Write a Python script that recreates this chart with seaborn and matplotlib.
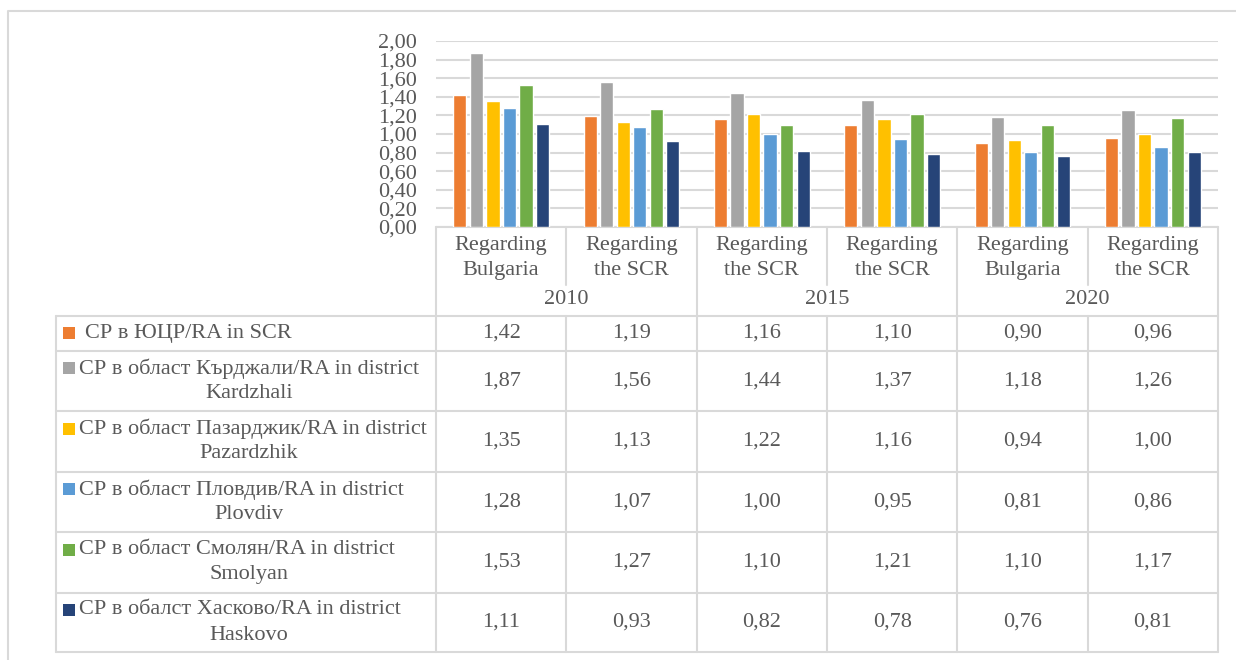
import numpy as np
import pandas as pd
import matplotlib
matplotlib.use("Agg")
import matplotlib.pyplot as plt
from matplotlib.ticker import FuncFormatter
import seaborn as sns

# ---- data -------------------------------------------------------------
periods = ["2010", "2015", "2020"]
columns = ["Regarding\nBulgaria", "Regarding\nthe SCR",
           "Regarding\nthe SCR", "Regarding\nthe SCR",
           "Regarding\nBulgaria", "Regarding\nthe SCR"]
column_period = ["2010", "2010", "2015", "2015", "2020", "2020"]

series = [
    "СР в ЮЦР/RA in SCR",
    "СР в област Кърджали/RA in district\nKardzhali",
    "СР в област Пазарджик/RA in district\nPazardzhik",
    "СР в област Пловдив/RA in district\nPlovdiv",
    "СР в област Смолян/RA in district\nSmolyan",
    "СР в обалст Хасково/RA in district\nHaskovo",
]
ra_scr = [1.42, 1.19, 1.16, 1.10, 0.90, 0.96]
ra_kardzhali = [1.87, 1.56, 1.44, 1.37, 1.18, 1.26]
ra_pazardzhik = [1.35, 1.13, 1.22, 1.16, 0.94, 1.00]
ra_plovdiv = [1.28, 1.07, 1.00, 0.95, 0.81, 0.86]
ra_smolyan = [1.53, 1.27, 1.10, 1.21, 1.10, 1.17]
ra_haskovo = [1.11, 0.93, 0.82, 0.78, 0.76, 0.81]
values = [ra_scr, ra_kardzhali, ra_pazardzhik, ra_plovdiv, ra_smolyan, ra_haskovo]

colors = ["#ED7D31", "#A5A5A5", "#FFC000", "#5B9BD5", "#70AD47", "#264478"]

slots = [f"{p}|{i}" for i, p in enumerate(column_period)]
df = pd.DataFrame(
    [(slots[j], s, v[j]) for s, v in zip(series, values) for j in range(len(slots))],
    columns=["slot", "series", "value"],
)

# ---- style ------------------------------------------------------------
sns.set_theme(style="white")
plt.rcParams["font.family"] = ["Liberation Serif", "DejaVu Serif"]
TXT = "#595959"
LINE = "#D9D9D9"
FS = 16

W, H = 1236, 660
fig = plt.figure(figsize=(W / 100, H / 100), dpi=100)

# table geometry (pixels)
tab_left, plot_left, plot_right = 56, 436, 1218
plot_top, plot_bottom = 41, 227
year_line, row_lines = 316, [316, 351, 411, 472, 532, 593, 652]
col_edges = np.linspace(plot_left, plot_right, len(columns) + 1)

# ---- bar chart --------------------------------------------------------
ax = fig.add_axes([plot_left / W, 1 - plot_bottom / H,
                   (plot_right - plot_left) / W, (plot_bottom - plot_top) / H])
sns.barplot(data=df, x="slot", y="value", hue="series", order=slots,
            hue_order=series, palette=colors, saturation=1, width=0.76,
            gap=0.2, legend=False, ax=ax)
ax.set_xlim(-0.5, len(slots) - 0.5)
ax.set_ylim(0, 2.0)
ax.set_yticks(np.arange(0, 2.01, 0.2))
ax.yaxis.set_major_formatter(FuncFormatter(lambda v, _: f"{v:.2f}".replace(".", ",")))
ax.tick_params(axis="y", length=0, pad=13.5, labelsize=FS, labelcolor=TXT)
ax.set_xticks([])
ax.set_xlabel("")
ax.set_ylabel("")
ax.grid(axis="y", color=LINE, linewidth=1.5)
ax.set_axisbelow(True)
for sp in ax.spines.values():
    sp.set_visible(False)
ax.patch.set_alpha(0)

# ---- data table overlay -----------------------------------------------
tb = fig.add_axes([0, 0, 1, 1], zorder=-1)
tb.set_xlim(0, W)
tb.set_ylim(H, 0)
tb.axis("off")

lw = 1.5
# outer chart frame
tb.plot([8, 8, W + 5], [H + 5, 11, 11], color=LINE, lw=lw)
# axis baseline and table horizontal rules
tb.plot([plot_left, plot_right], [plot_bottom, plot_bottom], color=LINE, lw=lw)
for y in row_lines:
    tb.plot([tab_left, plot_right], [y, y], color=LINE, lw=lw)
# vertical rules
tb.plot([tab_left, tab_left], [row_lines[0], row_lines[-1]], color=LINE, lw=lw)
for k, x in enumerate(col_edges):
    if k % 2 == 1:
        tb.plot([x, x], [plot_bottom, 285], color=LINE, lw=lw)
        tb.plot([x, x], [year_line, row_lines[-1]], color=LINE, lw=lw)
    else:
        tb.plot([x, x], [plot_bottom, row_lines[-1]], color=LINE, lw=lw)

# column headers
centers = (col_edges[:-1] + col_edges[1:]) / 2
for cx, lab in zip(centers, columns):
    tb.text(cx, 258, lab, ha="center", va="center", fontsize=FS, color=TXT,
            linespacing=1.4)
for k, p in enumerate(periods):
    cx = (col_edges[2 * k] + col_edges[2 * k + 2]) / 2
    tb.text(cx, 300, p, ha="center", va="center", fontsize=FS, color=TXT)

# rows: legend key, series name, values
for r, (name, vals, c) in enumerate(zip(series, values, colors)):
    top, bot = row_lines[r], row_lines[r + 1]
    mid = (top + bot) / 2
    lines = name.split("\n")
    first_y = mid if len(lines) == 1 else mid - 12.5
    tb.add_patch(plt.Rectangle((63, first_y - 6.5), 12, 12, color=c, lw=0))
    x0 = 85 if len(lines) == 1 else 79
    tb.text(x0, first_y, lines[0], ha="left", va="center", fontsize=FS, color=TXT)
    if len(lines) > 1:
        tb.text((tab_left + plot_left) / 2 + 3, mid + 12.5, lines[1],
                ha="center", va="center", fontsize=FS, color=TXT)
    for cx, v in zip(centers, vals):
        tb.text(cx, mid, f"{v:.2f}".replace(".", ","), ha="center", va="center",
                fontsize=FS, color=TXT)

fig.savefig("out.png", dpi=100)
